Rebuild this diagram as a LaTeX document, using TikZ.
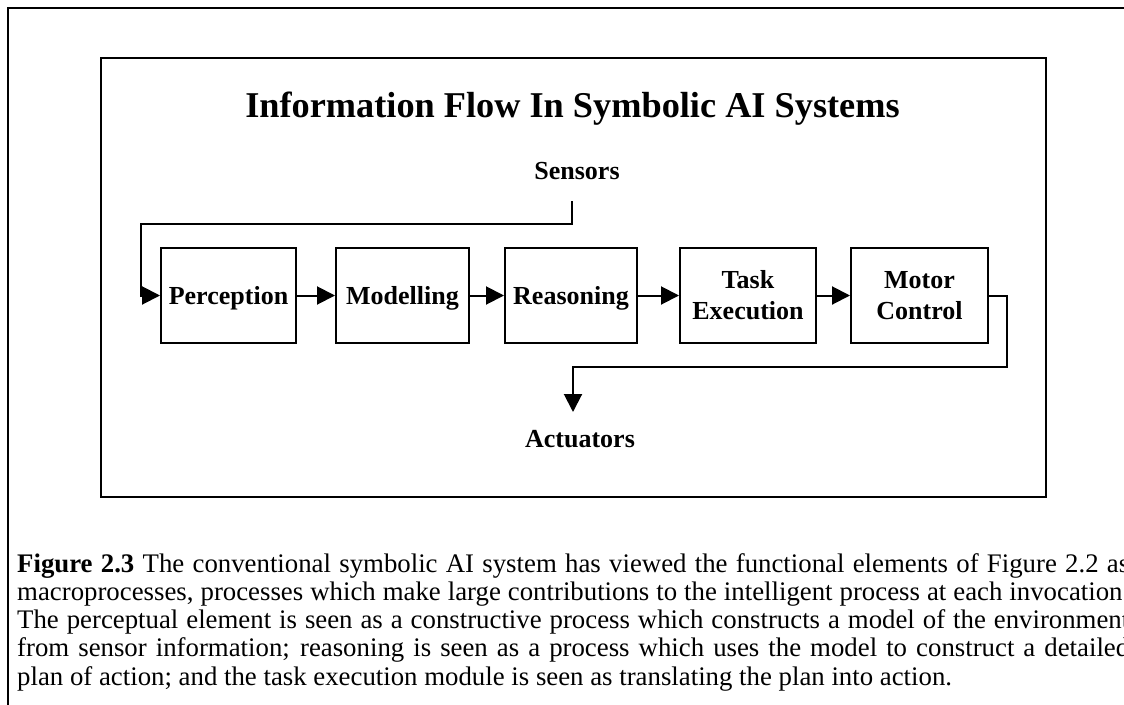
\documentclass[tikz,border=0pt]{standalone}
\usepackage{fontspec}
\setmainfont{Liberation Serif}
\usetikzlibrary{arrows.meta}
\begin{document}
\begin{tikzpicture}[x=1pt,y=-1pt,
  frame/.style={draw, line width=2.2pt},
  blockbox/.style={draw, line width=2pt, minimum height=95pt, inner sep=0pt,
    align=center, font=\bfseries\fontsize{26}{31}\selectfont},
  oneline/.style={blockbox, text depth=0pt},
  flow/.style={line width=2pt, -{Triangle[length=18pt,width=18pt]}},
  tag/.style={inner sep=0pt, anchor=base, font=\bfseries\fontsize{26}{31}\selectfont}]
\useasboundingbox (0,0) rectangle (1124,704);
\clip (0,0) rectangle (1124,704);

% outer figure frame and the inner diagram panel
\draw[frame] (8,8) rectangle (1170,760);
\draw[frame] (101,58) rectangle (1046,497);

\node[inner sep=0pt, anchor=base, font=\bfseries\fontsize{36.3}{40}\selectfont]
  (title) at (572.5,117) {Information Flow In Symbolic AI Systems};

% processing chain
\node[oneline, minimum width=135pt] (perc)   at (228.5,295.5) {Perception};
\node[oneline, minimum width=133pt] (model)  at (402.5,295.5) {Modelling};
\node[oneline, minimum width=132pt] (reason) at (571,295.5)   {Reasoning};
\node[blockbox, minimum width=136pt] (task)  at (748,295.5)   {Task\\Execution};
\node[blockbox, minimum width=137pt] (motor) at (919.5,295.5) {Motor\\Control};

\node[tag] (sensors)   at (577,179) {Sensors};
\node[tag] (actuators) at (580,447) {Actuators};

\coordinate (sIn)  at (572,201);
\coordinate (aOut) at (573,412);

% connectors
\draw[flow] (sIn) |- (141,224) |- (perc.west);
\draw[flow] (perc) -- (model);
\draw[flow] (model) -- (reason);
\draw[flow] (reason) -- (task);
\draw[flow] (task) -- (motor);
\draw[flow] (motor.east) -| (1007,367) -| (aOut);

% caption
\node[anchor=base west, inner sep=0pt, text width=1112pt, align=justify,
      font=\fontsize{26.8}{28.3}\selectfont] (caption) at (17,572)
  {\tolerance=9999\hyphenpenalty=10000
   \textbf{Figure 2.3} The conventional symbolic AI system has viewed the functional elements of Figure 2.2 as\linebreak
   macroprocesses, processes which make large contributions to the intelligent process at each invocation.\linebreak
   The perceptual element is seen as a constructive process which constructs a model of the environment\linebreak
   from sensor information; reasoning is seen as a process which uses the model to construct a detailed\linebreak
   plan of action; and the task execution module is seen as translating the plan into action.};
\end{tikzpicture}
\end{document}
